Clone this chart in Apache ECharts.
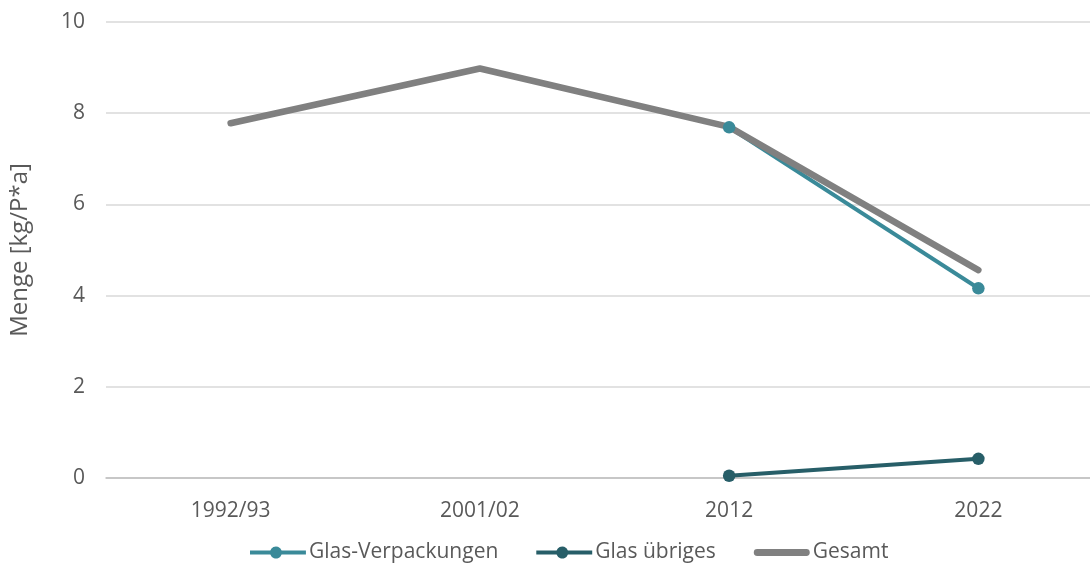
<!DOCTYPE html>
<html><head><meta charset="utf-8">
<script src="https://cdn.jsdelivr.net/npm/echarts@6/dist/echarts.min.js"></script>
<style>html,body{margin:0;padding:0;background:#fff;overflow:hidden;width:1090px;height:565px}#c{width:1103px;height:565px}</style>
</head><body><div id="c"></div>
<script>
const categories = ['1992/93', '2001/02', '2012', '2022'];
const glasVerpackungen = [null, null, 7.69, 4.16];
const glasUebriges = [null, null, 0.05, 0.42];
const gesamt = [7.78, 8.98, 7.70, 4.56];
const yTicks = [0, 2, 4, 6, 8, 10];

const font = '"Open Sans", sans-serif';
const lineDot = 'path://M0,4 L20.34,4 A6,6 0 0 1 31.66,4 L56,4 L56,8 L31.66,8 A6,6 0 0 1 20.34,8 L0,8 Z';
const thickBar = 'path://M3.5,0 L53.5,0 A3.5,3.5 0 0 1 53.5,7 L3.5,7 A3.5,3.5 0 0 1 3.5,0 Z';
const chart = echarts.init(document.getElementById('c'));
chart.setOption({
  animation: false,
  grid: { left: 105, right: 0, top: 22, bottom: 87, containLabel: false },
  xAxis: {
    type: 'category', data: categories, boundaryGap: true,
    axisLine: { lineStyle: { color: '#bfbfbf', width: 1.5 } },
    axisTick: { show: false },
    axisLabel: { color: '#595959', fontSize: 21, fontFamily: font, margin: 23 }
  },
  yAxis: {
    type: 'value', min: 0, max: 10, interval: 2,
    name: 'Menge [kg/P*a]', nameLocation: 'middle', nameGap: 74,
    nameTextStyle: { color: '#595959', fontSize: 24, fontFamily: font },
    axisLine: { show: false }, axisTick: { show: false },
    axisLabel: { color: '#595959', fontSize: 21, fontFamily: font, margin: 21,
      formatter: v => yTicks.includes(v) ? String(v) : '' },
    splitLine: { lineStyle: { color: '#d9d9d9', width: 1.5 } }
  },
  legend: {
    top: 542, left: 250, itemGap: 38, itemWidth: 56, itemHeight: 12, padding: 0,
    symbolKeepAspect: true,
    textStyle: { color: '#595959', fontSize: 21, fontFamily: font, padding: [0, 0, 0, -2] },
    data: [
      { name: 'Glas-Verpackungen', icon: lineDot },
      { name: 'Glas übriges', icon: lineDot },
      { name: 'Gesamt', icon: thickBar }
    ]
  },
  series: [
    { name: 'Glas-Verpackungen', type: 'line', data: glasVerpackungen,
      color: '#3a8a99', symbol: 'circle', symbolSize: 12.5,
      lineStyle: { width: 4, color: '#3a8a99' }, itemStyle: { color: '#3a8a99' } },
    { name: 'Glas übriges', type: 'line', data: glasUebriges,
      color: '#275e68', symbol: 'circle', symbolSize: 12.5,
      lineStyle: { width: 4, color: '#275e68' }, itemStyle: { color: '#275e68' } },
    { name: 'Gesamt', type: 'line', data: gesamt,
      color: '#808080', symbol: 'none', showSymbol: false,
      lineStyle: { width: 6.5, color: '#808080', cap: 'round' }, itemStyle: { color: '#808080' } }
  ]
});
</script></body></html>
